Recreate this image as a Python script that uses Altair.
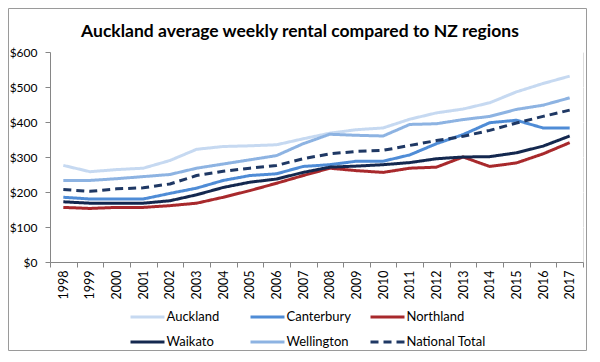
import altair as alt
import pandas as pd

years = [str(y) for y in range(1998, 2018)]
auckland = [276, 258, 264, 268, 290, 322, 330, 332, 335, 352, 368, 378, 383, 408, 426, 437, 455, 486, 510, 531]
canterbury = [185, 180, 180, 180, 196, 211, 233, 247, 252, 273, 278, 288, 288, 306, 338, 364, 398, 405, 383, 383]
northland = [156, 153, 156, 156, 161, 168, 185, 204, 225, 247, 268, 261, 256, 268, 271, 300, 273, 283, 309, 341]
waikato = [172, 168, 168, 168, 175, 192, 213, 228, 237, 256, 271, 274, 278, 284, 295, 300, 301, 312, 331, 360]
wellington = [233, 233, 238, 244, 250, 268, 280, 292, 304, 338, 365, 362, 360, 393, 395, 407, 416, 436, 448, 469]
national = [207, 202, 209, 212, 223, 247, 259, 268, 276, 295, 309, 316, 319, 333, 347, 359, 376, 397, 416, 434]

series_names = ["Auckland", "Canterbury", "Northland", "Waikato", "Wellington", "National Total"]
series_values = [auckland, canterbury, northland, waikato, wellington, national]
colors = ["#C6D9F1", "#4F8CD6", "#A8292C", "#14284F", "#8DB3E2", "#1F3864"]
dashes = [[1, 0], [1, 0], [1, 0], [1, 0], [1, 0], [8, 5]]
y_ticks = [0, 100, 200, 300, 400, 500, 600]

rows = []
for order, (name, vals) in enumerate(zip(series_names, series_values)):
    for yr, v in zip(years, vals):
        rows.append({"Year": yr, "Series": name, "Rent": v, "ord": order})
df = pd.DataFrame(rows)

FONT = "Lato"

legend_opts = dict(title=None, orient="none", legendX=87.5, legendY=255,
                   direction="horizontal", columns=3,
                   symbolType="M-2,0H2", symbolSize=289,
                   symbolStrokeWidth=3, gridAlign="all",
                   columnPadding=-2, rowPadding=8, labelOffset=9,
                   labelFontSize=13, labelFont=FONT,
                   labelColor="#000000", labelLimit=200)

lines = alt.Chart(df).mark_line(strokeWidth=3, strokeJoin="round").encode(
    x=alt.X("Year:N", sort=years, title=None,
            scale=alt.Scale(paddingInner=0, paddingOuter=0),
            axis=alt.Axis(labelAngle=270, tickBand="extent", grid=False,
                          tickSize=5, labelPadding=3, domainColor="#868686",
                          tickColor="#868686", labelFontSize=12.5,
                          labelColor="#000000", labelFont=FONT)),
    y=alt.Y("Rent:Q", title=None,
            scale=alt.Scale(domain=[0, 600], nice=False),
            axis=alt.Axis(values=y_ticks, labelExpr="'$' + datum.value",
                          grid=True, gridColor="#FFFFFF", gridWidth=1,
                          tickSize=5, labelPadding=8, domainColor="#868686",
                          tickColor="#868686", labelFontSize=12,
                          labelColor="#000000", labelFont=FONT)),
    color=alt.Color("Series:N", scale=alt.Scale(domain=series_names, range=colors),
                    legend=alt.Legend(**legend_opts)),
    strokeDash=alt.StrokeDash("Series:N", scale=alt.Scale(domain=series_names, range=dashes),
                              legend=alt.Legend(**legend_opts)),
    order=alt.Order("ord:Q"),
)

border = alt.Chart(pd.DataFrame({"a": [0]})).mark_rect(
    fill=None, stroke="#9A9A9A", strokeWidth=1
).encode(x=alt.value(-41.5), x2=alt.value(536.5), y=alt.value(-43.5), y2=alt.value(298.5))

chart = alt.layer(lines, border).properties(
    width=533,
    height=210,
    padding={"left": 42, "top": 44, "right": 5, "bottom": 90},
    autosize=alt.AutoSizeParams(type="none"),
    title=alt.TitleParams("Auckland average weekly rental compared to NZ regions",
                          font=FONT, fontSize=17.5, fontWeight="bold", color="#000000",
                          anchor="middle", frame="group", dx=-16.5, offset=-32),
).configure_view(stroke=None, fill="#EEF3FA").configure(background="#FFFFFF")

chart.save("out.html", embed_options={"renderer": "svg", "actions": False})
